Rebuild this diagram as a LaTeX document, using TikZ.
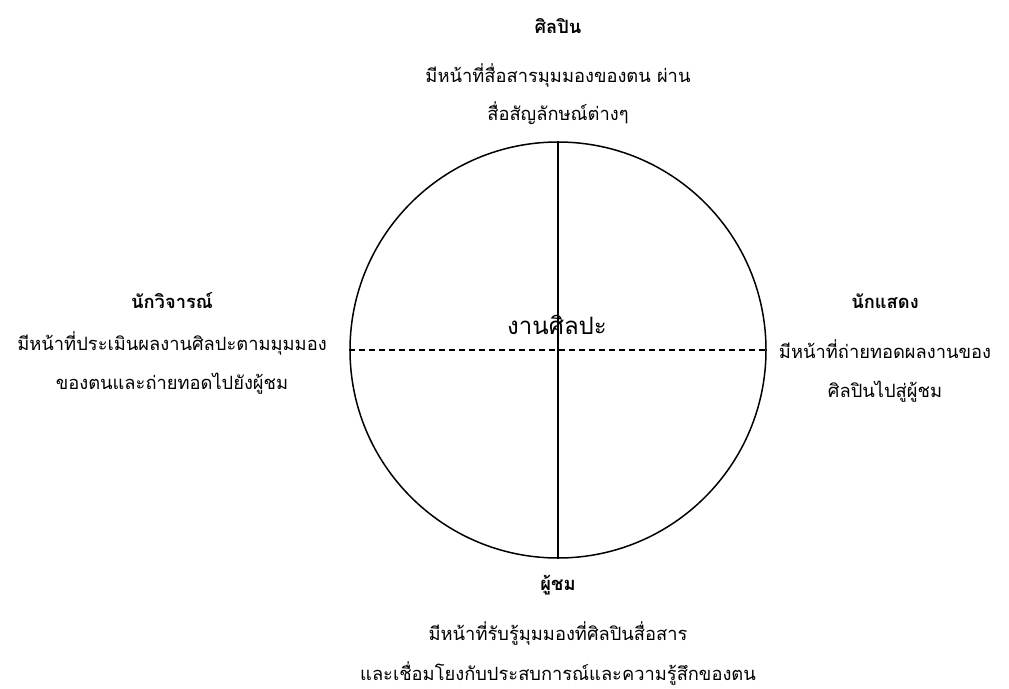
\documentclass[tikz,border=0pt]{standalone}
\usepackage{fontspec}
\newfontfamily\thaifont[Script=Thai]{Loma}
\begin{document}
\begin{tikzpicture}[x=1pt,y=-1pt,
  txt/.style={font=\thaifont\fontsize{18.3}{20}\selectfont, inner sep=0pt, anchor=base},
  ttl/.style={font=\thaifont\bfseries\fontsize{18.3}{20}\selectfont, inner sep=0pt, anchor=base},
  ctr/.style={font=\thaifont\fontsize{24}{26}\selectfont, inner sep=0pt, anchor=base}]
\useasboundingbox (0,0) rectangle (1009,688);
% the circle and its two axes
\node[circle, draw, line width=1.5pt, minimum size=416pt, inner sep=0pt] (art) at (558,350) {};
\draw[line width=1.2pt] (art.north) -- (art.south);
\draw[line width=1.2pt, dash pattern=on 6pt off 4pt] (art.west) -- (art.east);
\node[ctr] (artlbl) at (557,334) {งานศิลปะ};
% artist (top)
\node[ttl] (artist) at (558,33) {ศิลปิน};
\node[txt] (artist1) at (558,82) {มีหน้าที่สื่อสารมุมมองของตน ผ่าน};
\node[txt] (artist2) at (558,120) {สื่อสัญลักษณ์ต่างๆ};
% critic (left)
\node[ttl] (critic) at (172,308) {นักวิจารณ์};
\node[txt] (critic1) at (172,350) {มีหน้าที่ประเมินผลงานศิลปะตามมุมมอง};
\node[txt] (critic2) at (172,389) {ของตนและถ่ายทอดไปยังผู้ชม};
% performer (right)
\node[ttl] (perf) at (885,308) {นักแสดง};
\node[txt] (perf1) at (885,358) {มีหน้าที่ถ่ายทอดผลงานของ};
\node[txt] (perf2) at (885,397) {ศิลปินไปสู่ผู้ชม};
% audience (bottom)
\node[ttl] (aud) at (558,590) {ผู้ชม};
\node[txt] (aud1) at (558,640) {มีหน้าที่รับรู้มุมมองที่ศิลปินสื่อสาร};
\node[txt] (aud2) at (558,680) {และเชื่อมโยงกับประสบการณ์และความรู้สึกของตน};
\end{tikzpicture}
\end{document}
